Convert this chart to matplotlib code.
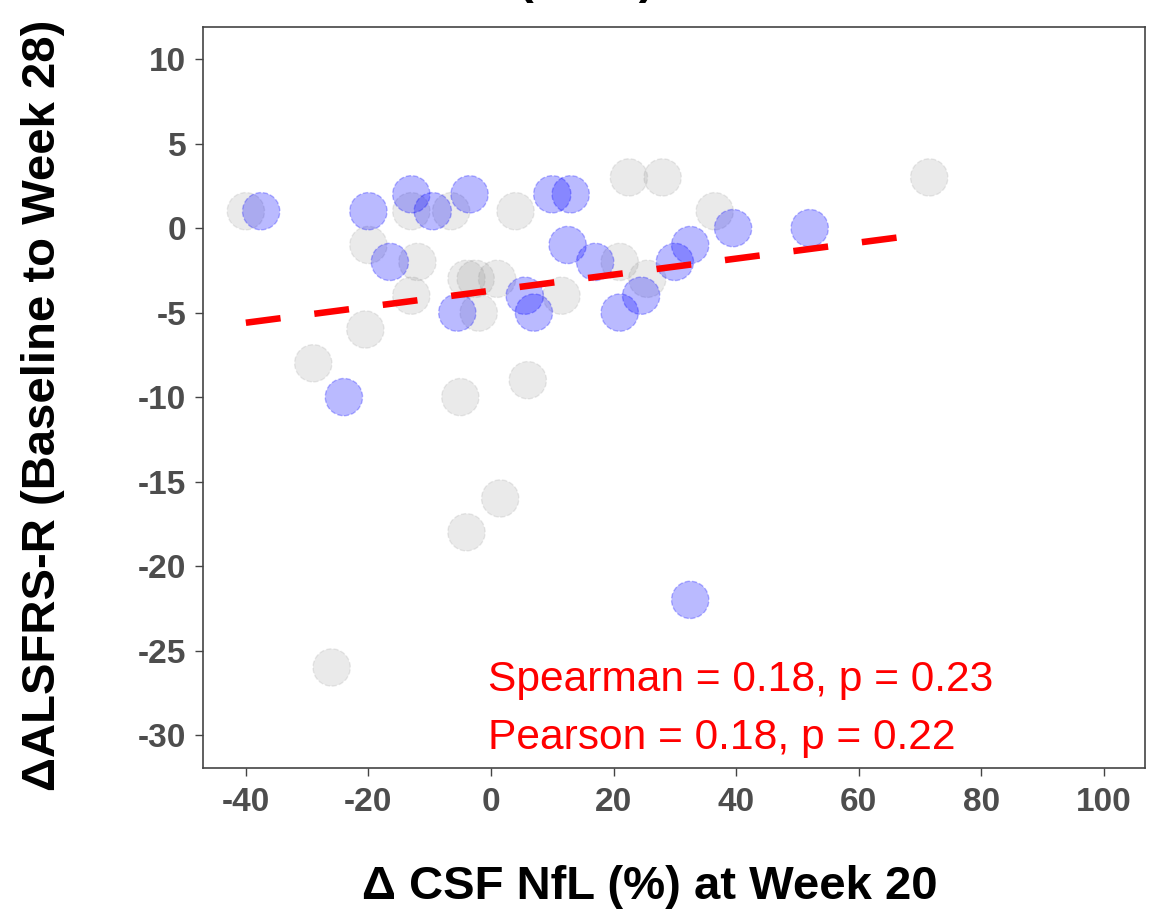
# -*- coding: utf-8 -*-
"""
Streudiagramm: Aenderung CSF NfL gegen Aenderung ALSFRS-R.
"""
import matplotlib.pyplot as plt

# grey points (all other patients)
grey_x = [-40, -20, -13, -6.5, 4, -12, -13, -4, -2.5, 1, -2, -20.5, -29,
          11.5, 22.5, 28, 21, 25.5, 36.5, 71.5, -5, 6, 1.5, -4, -26]
grey_y = [1, -1, 1, 1, 1, -2, -4, -3, -3, -3, -5, -6, -8,
          -4, 3, 3, -2, -3, 1, 3, -10, -9, -16, -18, -26]

# blue points (highlighted group)
blue_x = [-37.5, -20, -13, -9.5, -3.5, 10, 13, -16.5, 12.5, 17, -5.5,
          5.5, 7, 21, 24.5, 30, 32.5, 39.5, 52, -24, 32.5]
blue_y = [1, 1, 2, 1, 2, 2, 2, -2, -1, -2, -5,
          -4, -5, -5, -4, -2, -1, 0, 0, -10, -22]

# fitted line, from min to max of x
fit_x = [-40, 71.5]
fit_y = [-5.6, -0.31]

x_ticks = [-40, -20, 0, 20, 40, 60, 80, 100]
y_ticks = [10, 5, 0, -5, -10, -15, -20, -25, -30]
stats_lines = ['Spearman = 0.18, p = 0.23', 'Pearson = 0.18, p = 0.22']
stats_y = [-27.4, -30.85]


def make_plot(filename):
    """
    Draw the scatter plot and save it.

    Parameters
    ----------
    filename : string
        name of the png file.

    Returns
    -------
    None.
    """
    plt.rcParams['font.family'] = ['Liberation Sans', 'DejaVu Sans']
    plt.rcParams['lines.scale_dashes'] = False
    plt.rcParams['axes.unicode_minus'] = False

    fig = plt.figure(figsize=(11.61, 9.19), dpi=100)
    ax = fig.add_axes([0.1748, 0.1643, 0.8114, 0.8063])

    ax.scatter(grey_x, grey_y, s=720, c='#808080', alpha=0.16,
               edgecolors='#808080', linewidths=1.0, linestyle='--')
    ax.scatter(blue_x, blue_y, s=720, c='#0000ff', alpha=0.27,
               edgecolors='#0000ff', linewidths=1.0, linestyle='--')
    ax.plot(fit_x, fit_y, color='#ff0000', lw=4.7, dashes=(25.2, 24.5),
            dash_capstyle='butt')

    for txt, ty in zip(stats_lines, stats_y):
        ax.text(-0.5, ty, txt, color='#ff0000', fontsize=30.6,
                ha='left', va='baseline')

    ax.set_xlim(-47, 106.7)
    ax.set_ylim(-31.95, 11.9)
    ax.set_xticks(x_ticks)
    ax.set_yticks(y_ticks)

    for side in ax.spines:
        ax.spines[side].set_color('#444444')
        ax.spines[side].set_linewidth(1.2)
    ax.tick_params(axis='both', colors='#444444', length=6, width=1.0,
                   labelcolor='#4d4d4d', labelsize=24)
    ax.tick_params(axis='x', pad=8)
    ax.tick_params(axis='y', pad=6)
    for lab in ax.get_xticklabels() + ax.get_yticklabels():
        lab.set_fontweight('bold')

    ax.set_xlabel('\u0394 CSF NfL (%) at Week 20', fontsize=34,
                  fontweight='bold', va='center')
    ax.xaxis.set_label_coords((650 - 203) / 942, (768 - 887) / 741)
    ax.set_ylabel('\u0394ALSFRS-R (Baseline to Week 28)', fontsize=34,
                  fontweight='bold', va='center')
    ax.yaxis.set_label_coords((43 - 203) / 942, 0.49)

    # title is cut off by the top border, only the brackets show
    fig.text(586 / 1161, 1.0076, '(' + ' ' * 8 + ')', fontsize=34,
             fontweight='bold', ha='center', va='baseline')

    fig.savefig(filename, dpi=100)


def main():
    """
    Build the figure.

    Returns
    -------
    None.
    """
    make_plot('out.png')


if __name__ == "__main__":
    main()
